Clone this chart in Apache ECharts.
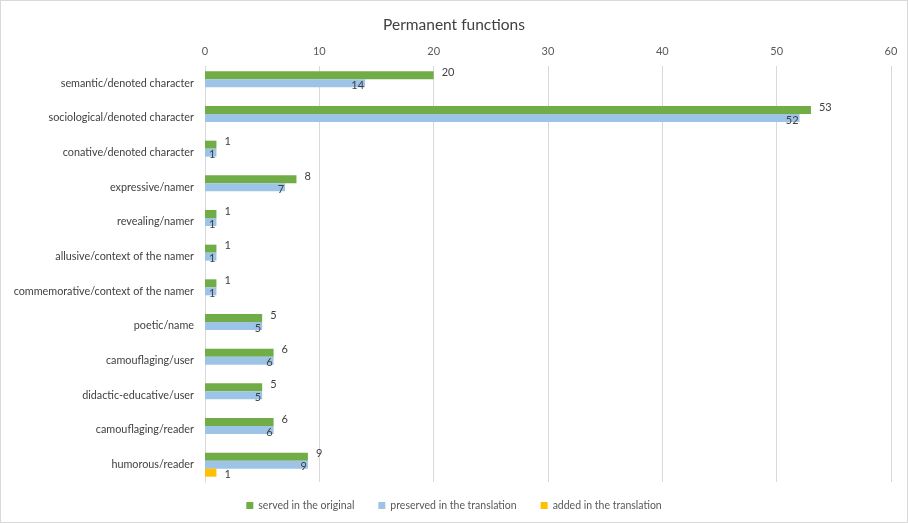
<!DOCTYPE html>
<html>
<head>
<meta charset="utf-8">
<script src="https://cdn.jsdelivr.net/npm/echarts@6/dist/echarts.min.js"></script>
<style>
html,body{margin:0;padding:0;background:#fff;}
#chart{width:908px;height:523px;box-sizing:border-box;border:1px solid #d9d9d9;}
</style>
</head>
<body>
<div id="chart"></div>
<script>
const categories = ["semantic/denoted character","sociological/denoted character","conative/denoted character","expressive/namer","revealing/namer","allusive/context of the namer","commemorative/context of the namer","poetic/name","camouflaging/user","didactic-educative/user","camouflaging/reader","humorous/reader"];
const servedOriginal = [20,53,1,8,1,1,1,5,6,5,6,9];
const preservedTranslation = [14,52,1,7,1,1,1,5,6,5,6,9];
const addedTranslation = [null,null,null,null,null,null,null,null,null,null,null,1];
const seriesNames = ["served in the original","preserved in the translation","added in the translation"];
const FONT = "Lato";
const chart = echarts.init(document.getElementById('chart'));
chart.setOption({
  animation:false,
  textStyle:{fontFamily:FONT},
  title:{text:"Permanent functions",left:'center',top:11,textStyle:{fontFamily:FONT,fontSize:15.5,fontWeight:'normal',color:'#404040'}},
  grid:{left:204,right:16,top:65,bottom:40,containLabel:false},
  legend:{bottom:6,left:'center',itemWidth:7,itemHeight:7,itemGap:24,icon:'rect',textStyle:{fontFamily:FONT,fontSize:10.5,color:'#595959'},data:seriesNames},
  xAxis:{type:'value',position:'top',min:0,max:60,interval:10,
    axisLine:{show:false},axisTick:{show:false},
    axisLabel:{fontFamily:FONT,fontSize:11,color:'#595959',margin:9},
    splitLine:{lineStyle:{color:'#d9d9d9'}}},
  yAxis:{type:'category',inverse:true,data:categories,
    axisLine:{lineStyle:{color:'#d9d9d9'}},axisTick:{show:false},
    axisLabel:{fontFamily:FONT,fontSize:10.8,color:'#404040',margin:11}},
  series:[
    {name:seriesNames[0],type:'bar',data:servedOriginal,barWidth:8,barGap:'0%',itemStyle:{color:'#70ad47'},
     label:{show:true,position:'right',distance:8,offset:[0,-3],fontFamily:FONT,fontSize:11,color:'#404040'}},
    {name:seriesNames[1],type:'bar',data:preservedTranslation,barWidth:8,barGap:'0%',itemStyle:{color:'#9dc3e6'},
     label:{show:true,position:'insideRight',distance:1,offset:[0,2],fontFamily:FONT,fontSize:11,color:'#404040'}},
    {name:seriesNames[2],type:'bar',data:addedTranslation,barWidth:8,barGap:'0%',itemStyle:{color:'#ffc000'},
     label:{show:true,position:'right',distance:8,offset:[0,2],fontFamily:FONT,fontSize:11,color:'#404040'}}
  ]
});
</script>
</body>
</html>
